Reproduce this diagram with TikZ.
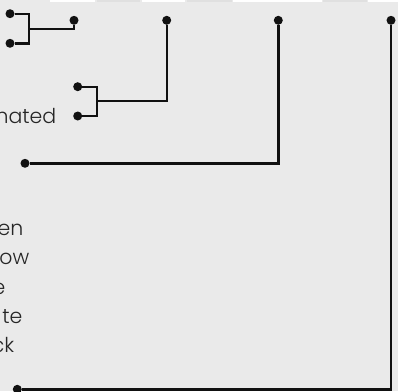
\documentclass[tikz,border=0pt]{standalone}
\usepackage{fontspec}
\IfFontExistsTF{Poppins Light}{\setmainfont{Poppins Light}}{\setmainfont{Poppins}}
\usetikzlibrary{positioning}
\definecolor{canvas}{HTML}{EAEAEA}
\definecolor{ink}{HTML}{111111}
\definecolor{label}{HTML}{262626}
\definecolor{tabgray}{HTML}{E0E0E0}

\begin{document}
\begin{tikzpicture}[x=1pt,y=-1pt,
  pin/.style={circle,fill=ink,inner sep=0pt,minimum size=9pt},
  w/.style={draw=ink,line width=2.4pt},
  lbl/.style={anchor=base east,inner sep=0pt,text=label,font=\fontsize{20.5}{29}\selectfont},
  tab/.style={fill=white}]
  \useasboundingbox (0,0) rectangle (398,391);
  \fill[canvas] (0,0) rectangle (398,391);
  \clip (0,0) rectangle (398,391);
  % strip of tabs along the top edge
  \fill[tab] (50,0) rectangle (95,1.6);
  \fill[tabgray] (97,0) rectangle (140,1.6);
  \fill[tab] (142,0) rectangle (185,1.6);
  \fill[tabgray] (187,0) rectangle (232,1.6);
  \fill[tab] (233,0) rectangle (322,1.6);
  \fill[tabgray] (323,0) rectangle (367,1.6);
  \fill[tab] (368,0) rectangle (398,1.6);
  % top pins
  \node[pin] (t1) at (74,20.3) {};
  \node[pin] (t2) at (166.7,20.3) {};
  \node[pin] (t3) at (278.3,20.3) {};
  \node[pin] (t4) at (391,20.3) {};
  % first pair
  \node[pin] (a1) at (10,13.7) {};
  \node[pin] (a2) at (10,43.3) {};
  \coordinate (ja) at (29,28.7);
  \draw[w] (a1) -| (ja) |- (a2);
  \draw[w] (ja) -| (t1);
  % second pair
  \node[pin] (b1) at (77.7,86.7) {};
  \node[pin] (b2) at (77.7,116) {};
  \coordinate (jb) at (96.7,101);
  \draw[w] (b1) -| (jb) |- (b2);
  \draw[w] (jb) -| (t2);
  \node[lbl] (nated) at (56.5,123.5) {nated};
  % single pins
  \node[pin] (c1) at (25,163.3) {};
  \draw[w] (c1) -| (t3);
  \node[pin] (d1) at (17.3,389.3) {};
  \draw[w] (d1) -| (t4);
  % list on the left
  \node[lbl] (l1) at (23.5,235) {en};
  \node[lbl] (l2) at (29.5,264.5) {ow};
  \node[lbl] (l3) at (5.5,294) {e};
  \node[lbl] (l4) at (22.5,323) {te};
  \node[lbl] (l5) at (14.5,352) {ck};
\end{tikzpicture}
\end{document}
